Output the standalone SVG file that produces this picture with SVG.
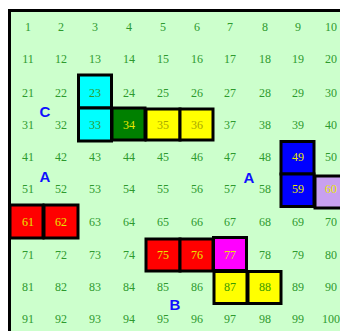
<svg xmlns="http://www.w3.org/2000/svg" width="340" height="331" viewBox="0 0 340 331">
<style>
.n{font-family:"Liberation Serif",serif;font-size:12px;fill:#2e9a2e;text-anchor:middle}
.y{fill:#e8e800}
.o{fill:#a8a800}
.g{fill:#3a9a00}
.c{stroke:#000;stroke-width:3}
.L{font-family:"Liberation Sans",Arial,sans-serif;font-size:15px;font-weight:bold;fill:#1010ff;text-anchor:middle}
</style>
<rect width="340" height="331" fill="#fff"/>
<rect id="board" x="9.5" y="10.5" width="400" height="400" fill="#ccffcc" stroke="#000" stroke-width="3"/>
<g id="cells">
<g id="c23"><rect class="c" x="78.5" y="75" width="33" height="33" fill="#00ffff"/></g>
<g id="c33"><rect class="c" x="78.5" y="108" width="33" height="33" fill="#00ffff"/></g>
<g id="c34"><rect class="c" x="112" y="108" width="33" height="32" fill="#008000"/></g>
<g id="c35"><rect class="c" x="146" y="109" width="34" height="31" fill="#ffff00" stroke-width="2"/></g>
<g id="c36"><rect class="c" x="180" y="109" width="33" height="31" fill="#ffff00" stroke-width="2"/></g>
<g id="c49"><rect class="c" x="281" y="141.5" width="33" height="32.5" fill="#0000ff"/></g>
<g id="c59"><rect class="c" x="281" y="174" width="33" height="32.5" fill="#0000ff"/></g>
<g id="c60"><rect class="c" x="315" y="176" width="30" height="32" fill="#c8a0f0"/></g>
<g id="c61"><rect class="c" x="10" y="205" width="33" height="33" fill="#ff0000"/></g>
<g id="c62"><rect class="c" x="44" y="205" width="34" height="33" fill="#ff0000"/></g>
<g id="c75"><rect class="c" x="146" y="239" width="34" height="32" fill="#ff0000"/></g>
<g id="c76"><rect class="c" x="180" y="239" width="33" height="32" fill="#ff0000"/></g>
<g id="c77"><rect class="c" x="213.5" y="237.5" width="33" height="33" fill="#ff00ff"/></g>
<g id="c87"><rect class="c" x="214" y="271.5" width="33" height="32" fill="#ffff00"/></g>
<g id="c88"><rect class="c" x="248" y="271.5" width="33" height="32" fill="#ffff00"/></g>
</g>
<g id="connectors"></g>
<g id="numbers">
<text class="n" x="28" y="31">1</text><text class="n" x="61" y="31">2</text><text class="n" x="95" y="31">3</text><text class="n" x="129" y="31">4</text><text class="n" x="163" y="31">5</text><text class="n" x="197" y="31">6</text><text class="n" x="230" y="31">7</text><text class="n" x="265" y="31">8</text><text class="n" x="298" y="31">9</text><text class="n" x="331" y="31">10</text>
<text class="n" x="28" y="63">11</text><text class="n" x="61" y="63">12</text><text class="n" x="95" y="63">13</text><text class="n" x="129" y="63">14</text><text class="n" x="163" y="63">15</text><text class="n" x="197" y="63">16</text><text class="n" x="230" y="63">17</text><text class="n" x="265" y="63">18</text><text class="n" x="298" y="63">19</text><text class="n" x="331" y="63">20</text>
<text class="n" x="28" y="97">21</text><text class="n" x="61" y="97">22</text><text class="n" x="95" y="97">23</text><text class="n" x="129" y="97">24</text><text class="n" x="163" y="97">25</text><text class="n" x="197" y="97">26</text><text class="n" x="230" y="97">27</text><text class="n" x="265" y="97">28</text><text class="n" x="298" y="97">29</text><text class="n" x="331" y="97">30</text>
<text class="n" x="28" y="129">31</text><text class="n" x="61" y="129">32</text><text class="n" x="95" y="129">33</text><text class="n y" x="129" y="129">34</text><text class="n o" x="163" y="129">35</text><text class="n o" x="197" y="129">36</text><text class="n" x="230" y="129">37</text><text class="n" x="265" y="129">38</text><text class="n" x="298" y="129">39</text><text class="n" x="331" y="129">40</text>
<text class="n" x="28" y="161">41</text><text class="n" x="61" y="161">42</text><text class="n" x="95" y="161">43</text><text class="n" x="129" y="161">44</text><text class="n" x="163" y="161">45</text><text class="n" x="197" y="161">46</text><text class="n" x="230" y="161">47</text><text class="n" x="265" y="161">48</text><text class="n y" x="298" y="161">49</text><text class="n" x="331" y="161">50</text>
<text class="n" x="28" y="193">51</text><text class="n" x="61" y="193">52</text><text class="n" x="95" y="193">53</text><text class="n" x="129" y="193">54</text><text class="n" x="163" y="193">55</text><text class="n" x="197" y="193">56</text><text class="n" x="230" y="193">57</text><text class="n" x="265" y="193">58</text><text class="n y" x="298" y="193">59</text><text class="n y" x="331" y="193">60</text>
<text class="n y" x="28" y="226">61</text><text class="n y" x="61" y="226">62</text><text class="n" x="95" y="226">63</text><text class="n" x="129" y="226">64</text><text class="n" x="163" y="226">65</text><text class="n" x="197" y="226">66</text><text class="n" x="230" y="226">67</text><text class="n" x="265" y="226">68</text><text class="n" x="298" y="226">69</text><text class="n" x="331" y="226">70</text>
<text class="n" x="28" y="259">71</text><text class="n" x="61" y="259">72</text><text class="n" x="95" y="259">73</text><text class="n" x="129" y="259">74</text><text class="n y" x="163" y="259">75</text><text class="n y" x="197" y="259">76</text><text class="n y" x="230" y="259">77</text><text class="n" x="265" y="259">78</text><text class="n" x="298" y="259">79</text><text class="n" x="331" y="259">80</text>
<text class="n" x="28" y="291">81</text><text class="n" x="61" y="291">82</text><text class="n" x="95" y="291">83</text><text class="n" x="129" y="291">84</text><text class="n" x="163" y="291">85</text><text class="n" x="197" y="291">86</text><text class="n g" x="230" y="291">87</text><text class="n g" x="265" y="291">88</text><text class="n" x="298" y="291">89</text><text class="n" x="331" y="291">90</text>
<text class="n" x="28" y="323">91</text><text class="n" x="61" y="323">92</text><text class="n" x="95" y="323">93</text><text class="n" x="129" y="323">94</text><text class="n" x="163" y="323">95</text><text class="n" x="197" y="323">96</text><text class="n" x="230" y="323">97</text><text class="n" x="265" y="323">98</text><text class="n" x="298" y="323">99</text><text class="n" x="331" y="323">100</text>
</g>
<g id="labels">
<text class="L" x="45" y="117">C</text>
<text class="L" x="45" y="182">A</text>
<text class="L" x="249" y="183">A</text>
<text class="L" x="175" y="310">B</text>
</g>
</svg>
